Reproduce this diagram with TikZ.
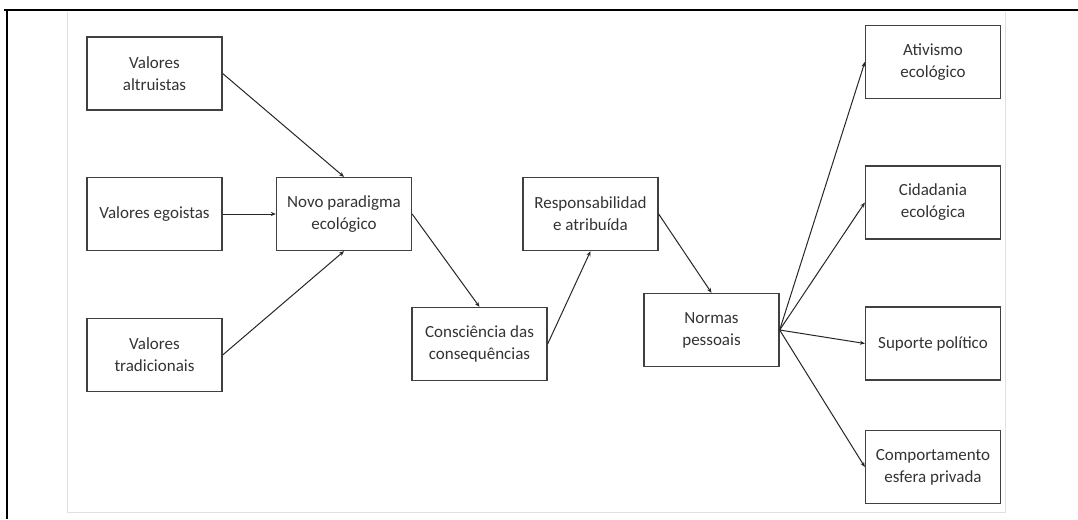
\documentclass[tikz,border=0pt]{standalone}
\usepackage{fontspec}
\setmainfont{Carlito}
\usetikzlibrary{arrows.meta}
\begin{document}
\begin{tikzpicture}[x=1pt,y=-1pt,
  box/.style={draw=black!75,line width=1.3pt,minimum width=135pt,minimum height=73pt,
    inner sep=2pt,align=center,font=\fontsize{17}{22}\selectfont,text=black!80},
  conn/.style={draw=black!85,line width=1pt,-{Stealth[length=5pt,width=4pt]}},
  frame/.style={draw=black,line width=2.2pt},
  faint/.style={draw=black!12,line width=0.8pt}]
\useasboundingbox (0,0) rectangle (1078,519);
\coordinate (f1) at (4,10);
\coordinate (f2) at (1078,10);
\coordinate (f3) at (7,519);
\coordinate (g1) at (67,12);
\coordinate (g2) at (67,512);
\coordinate (g3) at (1005,512);
\coordinate (g4) at (1005,12);
\draw[faint] (g1) -- (g2) -- (g3) -- (g4);
\draw[frame] (f2) -- (f1);
\draw[frame] (7,9) -- (f3);
\node[box] (alt) at (154.5,73.5) {Valores\\altruistas};
\node[box] (ego) at (154.5,214) {Valores egoistas};
\node[box] (trad) at (154.5,355) {Valores\\tradicionais};
\node[box] (novo) at (344,214) {Novo paradigma\\ecológico};
\node[box] (cons) at (479.5,344) {Consciência das\\consequências};
\node[box] (resp) at (590.5,214) {Responsabilidad\\e atribuída};
\node[box] (norm) at (711.5,330) {Normas\\pessoais};
\node[box] (ativ) at (933,62) {Ativismo\\ecológico};
\node[box] (cid) at (933,202.5) {Cidadania\\ecológica};
\node[box] (sup) at (933,343.5) {Suporte político};
\node[box] (comp) at (933,467) {Comportamento\\esfera privada};
\draw[conn] (alt.east) -- (novo.north);
\draw[conn] (ego.east) -- (novo.west);
\draw[conn] (trad.east) -- (novo.south);
\draw[conn] (novo.east) -- (cons.north);
\draw[conn] (cons.east) -- (resp.south);
\draw[conn] (resp.east) -- (norm.north);
\draw[conn] (norm.east) -- (ativ.west);
\draw[conn] (norm.east) -- (cid.west);
\draw[conn] (norm.east) -- (sup.west);
\draw[conn] (norm.east) -- (comp.west);
\end{tikzpicture}
\end{document}
